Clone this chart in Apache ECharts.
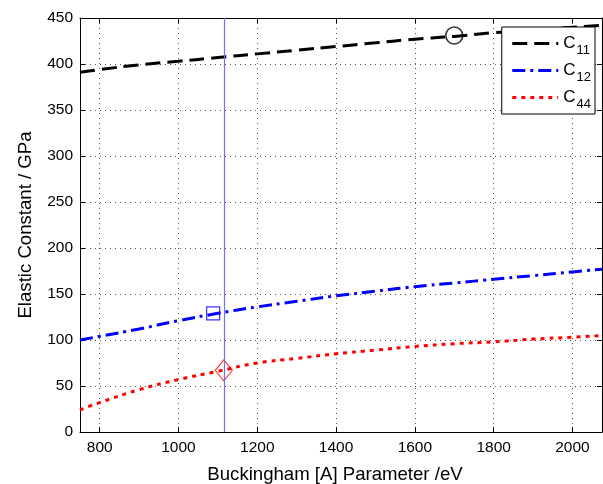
<!DOCTYPE html>
<html lang="en">
<head>
    <meta charset="UTF-8">
    <title>Elastic Constants</title>
    <script type="text/javascript" src="https://cdn.jsdelivr.net/npm/echarts@6.0.0/dist/echarts.min.js"></script>
    <style type="text/css">
        html, body {
            margin: 0;
            padding: 0;
            height: 100%;
            width: 100%;
            background: #fff;
        }
        #echarts {
            width: 603px;
            height: 484px;
        }
    </style>
</head>
<body>

<div id="echarts"></div>

<script type="text/javascript">
    // Buckingham A parameter (eV) sample points
    var paramA = [750, 800, 900, 1000, 1100, 1200, 1300, 1400, 1500, 1600, 1700, 1800, 1900, 2000, 2075];
    var c11 = [391, 394, 399, 403, 407, 411, 415, 419, 423, 427, 430, 434, 437, 440, 442];
    var c12 = [100, 104, 112, 121, 129, 136, 142, 148, 153, 158, 162, 166, 170, 174, 177];
    var c44 = [24, 32, 46, 57, 66, 75, 80, 85, 89, 93, 96, 98, 101, 103, 105];

    // single highlighted points
    var markC11 = [1700, 431];
    var markC12 = [1088, 129];
    var markC44 = [1115, 67];
    var fittedA = 1115;

    var xTicks = [800, 1000, 1200, 1400, 1600, 1800, 2000];

    var font = 'Liberation Sans, Arial, sans-serif';
    var myChart = echarts.init(document.getElementById('echarts'), null, {renderer: 'canvas'});

    function pairs(ys) {
        return paramA.map(function (x, i) { return [x, ys[i]]; });
    }
    function plain(v) {
        return String(v);
    }

    var rich = {
        c: {fontSize: 17, fontFamily: font, color: '#000', verticalAlign: 'middle'},
        s: {fontSize: 13, fontFamily: font, color: '#000', padding: [14, 0, 0, 1]}
    };

    option = {
        animation: false,
        backgroundColor: '#fff',
        grid: {left: 80, right: 1, top: 18, bottom: 52, outerBoundsMode: 'none'},
        legend: {
            right: 8,
            top: 27,
            orient: 'vertical',
            backgroundColor: '#fff',
            borderColor: '#000',
            borderWidth: 1,
            borderRadius: 0,
            padding: [8, 4, 3, 9],
            itemWidth: 46,
            itemHeight: 14,
            itemGap: 5,
            itemStyle: {opacity: 0},
            lineStyle: {width: 3},
            data: ['C11', 'C12', 'C44'],
            formatter: function (name) {
                return '{c|C}{s|' + name.slice(1) + '}';
            },
            textStyle: {fontSize: 17, fontFamily: font, color: '#000', rich: rich}
        },
        xAxis: [{
            type: 'value',
            min: 750,
            max: 2075,
            name: 'Buckingham [A] Parameter /eV',
            nameLocation: 'middle',
            nameGap: 33,
            nameTextStyle: {fontSize: 18.6, fontFamily: font, color: '#000', padding: [0, 12, 0, 0]},
            axisLine: {show: true, onZero: false, lineStyle: {color: '#000', width: 1}},
            axisTick: {inside: true, length: 5, customValues: xTicks, lineStyle: {color: '#000'}},
            axisLabel: {customValues: xTicks, formatter: plain, fontSize: 15.5, fontFamily: font, color: '#000', margin: 8},
            splitLine: {show: true, lineStyle: {color: '#555', type: [1, 4], width: 1}}
        }, {
            type: 'value',
            position: 'top',
            min: 750,
            max: 2075,
            axisLine: {show: true, onZero: false, lineStyle: {color: '#000', width: 1}},
            axisTick: {inside: true, length: 5, customValues: xTicks, lineStyle: {color: '#000'}},
            axisLabel: {show: false},
            splitLine: {show: false}
        }],
        yAxis: [{
            type: 'value',
            min: 0,
            max: 450,
            interval: 50,
            name: 'Elastic Constant / GPa',
            nameLocation: 'middle',
            nameGap: 45,
            nameTextStyle: {fontSize: 18.6, fontFamily: font, color: '#000'},
            axisLine: {show: true, onZero: false, lineStyle: {color: '#000', width: 1}},
            axisTick: {inside: true, length: 5, lineStyle: {color: '#000'}},
            axisLabel: {formatter: plain, fontSize: 15.5, fontFamily: font, color: '#000', margin: 7},
            splitLine: {show: true, lineStyle: {color: '#555', type: [1, 4], width: 1}}
        }, {
            type: 'value',
            position: 'right',
            min: 0,
            max: 450,
            interval: 50,
            axisLine: {show: true, onZero: false, lineStyle: {color: '#000', width: 1}},
            axisTick: {inside: true, length: 5, lineStyle: {color: '#000'}},
            axisLabel: {show: false},
            splitLine: {show: false}
        }],
        series: [
            {
                name: 'C11',
                type: 'line',
                smooth: true,
                symbol: 'none',
                data: pairs(c11),
                itemStyle: {color: '#000'},
                lineStyle: {color: '#000', width: 3, type: [15, 7]},
                z: 3
            },
            {
                name: 'C12',
                type: 'line',
                smooth: true,
                symbol: 'none',
                data: pairs(c12),
                itemStyle: {color: '#0000ff'},
                lineStyle: {color: '#0000ff', width: 3, type: [13, 5, 3, 5]},
                z: 3,
                markLine: {
                    silent: true,
                    symbol: 'none',
                    label: {show: false},
                    lineStyle: {color: '#7070ff', width: 1.2, type: 'solid'},
                    data: [{xAxis: fittedA}]
                }
            },
            {
                name: 'C44',
                type: 'line',
                smooth: true,
                symbol: 'none',
                data: pairs(c44),
                itemStyle: {color: '#ff0000'},
                lineStyle: {color: '#ff0000', width: 3, type: [4, 5]},
                z: 3
            },
            {
                type: 'scatter',
                symbol: 'circle',
                symbolSize: 17,
                data: [markC11],
                itemStyle: {color: 'transparent', borderColor: '#000', borderWidth: 1.6},
                z: 4
            },
            {
                type: 'scatter',
                symbol: 'rect',
                symbolSize: 13,
                data: [markC12],
                itemStyle: {color: 'transparent', borderColor: '#0000ff', borderWidth: 1.2},
                z: 4
            },
            {
                type: 'scatter',
                symbol: 'diamond',
                symbolSize: [17, 21],
                data: [markC44],
                itemStyle: {color: 'transparent', borderColor: '#ff0000', borderWidth: 1.2},
                z: 4
            }
        ]
    };
    myChart.setOption(option);
</script>

</body>
</html>
